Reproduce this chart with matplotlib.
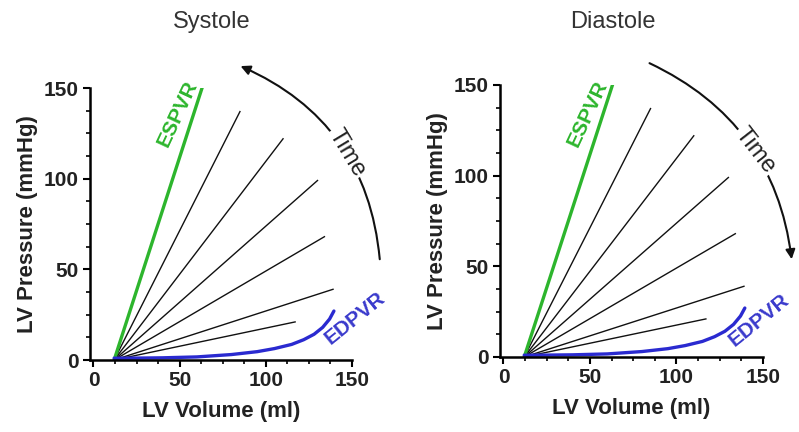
import matplotlib
matplotlib.use("Agg")
import matplotlib.pyplot as plt
from matplotlib.patches import FancyArrowPatch
from matplotlib.ticker import MultipleLocator

plt.rcParams['font.family'] = ['Liberation Sans', 'DejaVu Sans']

# ---- data ----
titles = ["Systole", "Diastole"]
v0 = 12
espvr_v = [12, 63]
espvr_p = [0, 150]
line_end_v = [85, 110, 130, 134, 139, 117]
line_end_p = [137, 122, 99, 68, 39, 21]
edpvr_v = [12, 20, 40, 60, 80, 95, 105, 115, 122, 128, 133, 137, 139.5]
edpvr_p = [1.0, 1.0, 1.2, 1.7, 3.0, 4.6, 6.3, 8.6, 11.2, 14.2, 18.0, 22.6, 27]
xticks = [0, 50, 100, 150]
yticks = [0, 50, 100, 150]

W, H = 799, 432
fig = plt.figure(figsize=(W / 100, H / 100), dpi=100)

def fx(x):
    return x / W

def fy(y):
    return 1 - y / H

GREEN = "#2db52d"
BLUE = "#2a2ad0"
TXT = "#222222"

axes_px = [(90, 352, 88, 360), (500, 763, 85, 357)]
title_px = [(212, 22), (613, 22)]
espvr_lbl = [(178, 114), (588, 114)]
edpvr_lbl = [(355, 318), (759, 320)]

for i, (l, r, t, b) in enumerate(axes_px):
    ax = fig.add_axes([fx(l), fy(b), (r - l) / W, (b - t) / H])
    ax.set_xlim(-2, 150)
    ax.set_ylim(0, 150)
    for s in ["top", "right"]:
        ax.spines[s].set_visible(False)
    for s in ["left", "bottom"]:
        ax.spines[s].set_linewidth(1.8)
    ax.set_xticks(xticks)
    ax.set_yticks(yticks)
    ax.xaxis.set_minor_locator(MultipleLocator(12.5))
    ax.yaxis.set_minor_locator(MultipleLocator(12.5))
    ax.tick_params(which="major", length=5, width=1.5, direction="out",
                   labelsize=15, colors="black", labelcolor=TXT, pad=3)
    ax.tick_params(which="minor", length=3, width=1.2, direction="out")
    for lab in ax.get_xticklabels() + ax.get_yticklabels():
        lab.set_fontweight("bold")
    ax.set_xlabel("LV Volume (ml)", fontsize=16, fontweight="bold", color=TXT, labelpad=8)
    ax.set_ylabel("LV Pressure (mmHg)", fontsize=16, fontweight="bold", color=TXT, labelpad=4)

    for ve, pe in zip(line_end_v, line_end_p):
        ax.plot([v0, ve], [0, pe], color="#111111", lw=1.0)
    ax.plot(espvr_v, espvr_p, color=GREEN, lw=2.4)
    ax.plot(edpvr_v, edpvr_p, color=BLUE, lw=2.4, solid_capstyle="round",
            solid_joinstyle="round")

    fig.text(fx(title_px[i][0]), fy(title_px[i][1]), titles[i], fontsize=17,
             color="#333333", ha="center", va="center")
    fig.text(fx(espvr_lbl[i][0]), fy(espvr_lbl[i][1]), "ESPVR", fontsize=15,
             fontweight="bold", color=GREEN, rotation=65, ha="center", va="center",
             rotation_mode="anchor")
    fig.text(fx(edpvr_lbl[i][0]), fy(edpvr_lbl[i][1]), "EDPVR", fontsize=15,
             fontweight="bold", color="#3a3acc", rotation=39, ha="center", va="center",
             rotation_mode="anchor")

# Time arrows
arr1 = FancyArrowPatch((fx(380), fy(262)), (fx(238), fy(65)), transform=fig.transFigure,
                       connectionstyle="arc3,rad=0.3", arrowstyle="-|>", mutation_scale=14,
                       lw=1.5, color="#111111")
fig.add_artist(arr1)
arr2 = FancyArrowPatch((fx(647), fy(62)), (fx(792), fy(262)), transform=fig.transFigure,
                       connectionstyle="arc3,rad=-0.28", arrowstyle="-|>", mutation_scale=14,
                       lw=1.5, color="#111111")
fig.add_artist(arr2)
fig.text(fx(347), fy(153), "Time", fontsize=17, color="#222222", rotation=-59,
         ha="center", va="center", rotation_mode="anchor",
         bbox=dict(facecolor="white", edgecolor="none", pad=1))
fig.text(fx(755), fy(151), "Time", fontsize=17, color="#222222", rotation=-52,
         ha="center", va="center", rotation_mode="anchor",
         bbox=dict(facecolor="white", edgecolor="none", pad=1))

fig.savefig("out.png", dpi=100)
